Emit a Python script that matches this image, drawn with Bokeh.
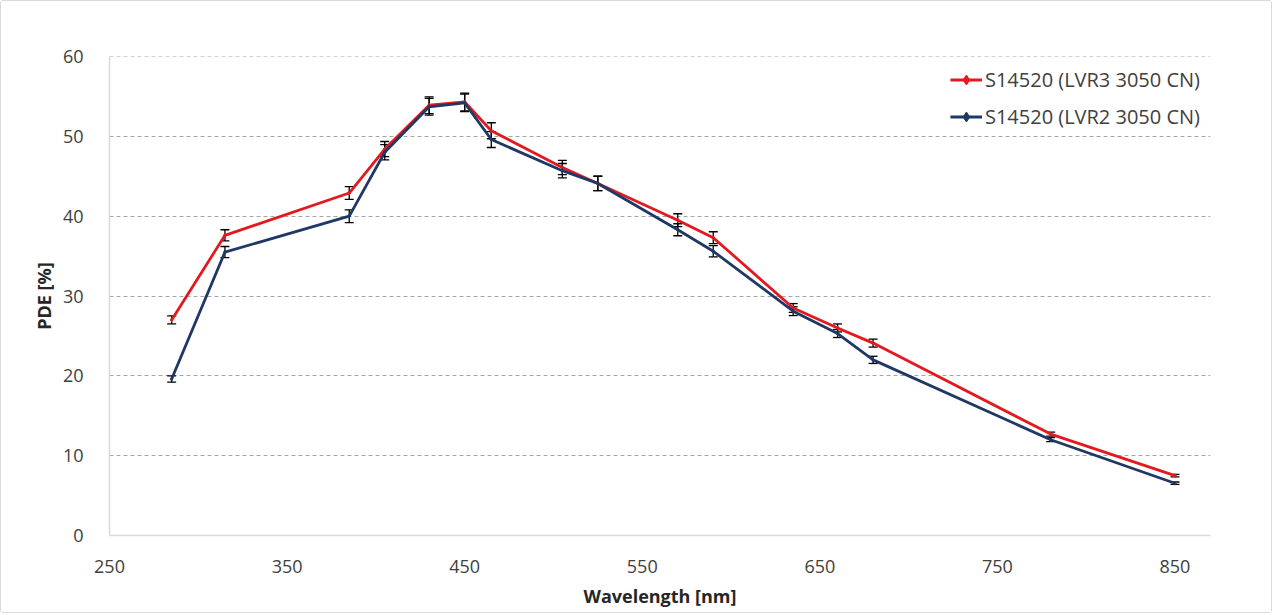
from bokeh.plotting import figure
from bokeh.models import ColumnDataSource, Whisker, TeeHead, FixedTicker, Range1d, Legend, LegendItem, Span
from bokeh.embed import file_html
from bokeh.resources import INLINE

wavelength = [285, 315, 385, 405, 430, 450, 465, 505, 525, 570, 590, 635, 660, 680, 780, 850]
pde_lvr3 = [27.0, 37.6, 42.9, 48.4, 53.9, 54.3, 50.7, 46.1, 44.1, 39.5, 37.3, 28.5, 26.0, 24.1, 12.7, 7.5]
err_lvr3 = [0.5, 0.7, 0.8, 0.95, 1.05, 1.1, 1.0, 0.9, 0.9, 0.8, 0.75, 0.55, 0.5, 0.5, 0.25, 0.15]
pde_lvr2 = [19.6, 35.5, 40.0, 48.0, 53.7, 54.2, 49.6, 45.7, 44.1, 38.3, 35.6, 28.1, 25.3, 22.0, 12.0, 6.55]
err_lvr2 = [0.4, 0.7, 0.8, 0.95, 1.05, 1.1, 1.0, 0.9, 0.9, 0.75, 0.7, 0.55, 0.5, 0.45, 0.25, 0.15]
series_names = ["S14520 (LVR3 3050 CN)", "S14520 (LVR2 3050 CN)"]
series_colors = ["#E3191F", "#1F3864"]
x_ticks = [250, 350, 450, 550, 650, 750, 850]
y_ticks = [0, 10, 20, 30, 40, 50, 60]

FONT = "Open Sans"
TXT = "#404040"

p = figure(width=1272, height=613, output_backend="svg", toolbar_location=None,
           x_range=Range1d(250, 870), y_range=Range1d(0, 60),
           min_border_left=108, min_border_right=63, min_border_top=55, min_border_bottom=79)
p.styles = {"border": "1px solid #D9D9D9", "border-radius": "3px"}
p.outline_line_color = None
p.background_fill_color = "white"
p.border_fill_color = "white"

p.xaxis.ticker = FixedTicker(ticks=x_ticks)
p.yaxis.ticker = FixedTicker(ticks=y_ticks)
for ax in (p.xaxis[0], p.yaxis[0]):
    ax.axis_line_color = "#D9D9D9"
    ax.axis_line_width = 1.5
    ax.major_tick_line_color = None
    ax.minor_tick_line_color = None
    ax.major_label_text_font = FONT
    ax.major_label_text_font_size = "18px"
    ax.major_label_text_color = TXT
    ax.axis_label_text_font = FONT
    ax.axis_label_text_font_size = "18px"
    ax.axis_label_text_font_style = "bold"
    ax.axis_label_text_color = "#262626"
p.xaxis.axis_label = "Wavelength [nm]"
p.yaxis.axis_label = "PDE [%]"
p.xaxis.major_label_standoff = 18
p.yaxis.major_label_standoff = 20
p.xaxis.axis_label_standoff = 8
p.yaxis.axis_label_standoff = 4

p.xgrid.grid_line_color = None
p.ygrid.grid_line_color = "#A6A6A6"
p.ygrid.grid_line_dash = "4 3"
p.ygrid.grid_line_width = 1
p.add_layout(Span(location=y_ticks[-1], dimension="width", line_color="#A6A6A6",
                  line_dash="4 3", line_width=1))

items = []
for vals, errs, name, col in [(pde_lvr3, err_lvr3, series_names[0], series_colors[0]),
                              (pde_lvr2, err_lvr2, series_names[1], series_colors[1])]:
    src = ColumnDataSource(dict(x=wavelength, y=vals,
                                lo=[v - e for v, e in zip(vals, errs)],
                                hi=[v + e for v, e in zip(vals, errs)]))
    r_line = p.line("x", "y", source=src, line_color=col, line_width=2.8)
    r_pt = p.scatter("x", "y", source=src, marker="diamond", size=4, fill_color=col, line_color=col)
    w = Whisker(source=src, base="x", lower="lo", upper="hi",
                line_color="black", line_width=1.3,
                upper_head=TeeHead(size=9, line_color="black", line_width=1.3),
                lower_head=TeeHead(size=9, line_color="black", line_width=1.3))
    p.add_layout(w)
    items.append(LegendItem(label=name, renderers=[r_line, r_pt]))

legend = Legend(items=items, location="top_right", border_line_color=None,
                background_fill_alpha=0, label_text_font=FONT, label_text_font_size="20px",
                label_text_color=TXT, spacing=10, label_height=25, glyph_height=25,
                glyph_width=32, padding=0, margin=10, label_standoff=3)
p.add_layout(legend)

open("out.html", "w").write(file_html(p, INLINE))
